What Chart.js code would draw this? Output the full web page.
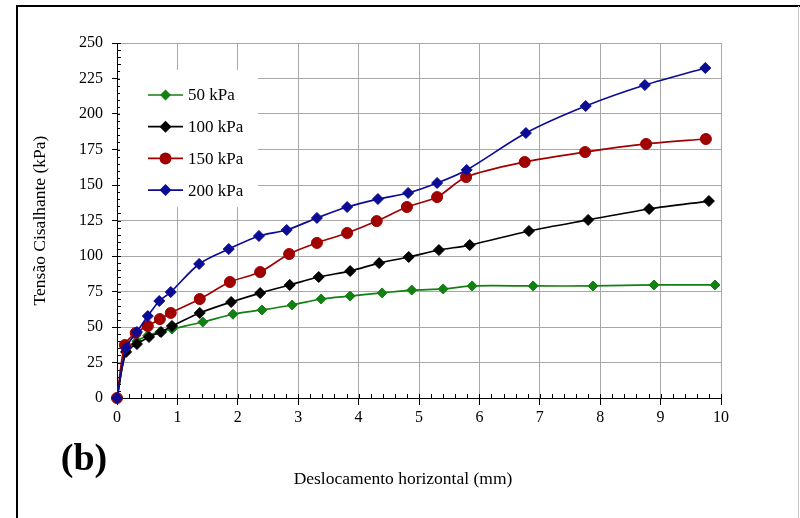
<!DOCTYPE html>
<html>
<head>
<meta charset="utf-8">
<script src="https://cdn.jsdelivr.net/npm/chart.js@4/dist/chart.umd.min.js"></script>
<style>
  html, body { margin: 0; padding: 0; background: #fff; }
  #wrap { width: 800px; height: 518px; position: relative; }
</style>
</head>
<body>
<div id="wrap"><canvas id="c" width="800" height="518"></canvas></div>
<script>
// Horizontal displacement (mm) and shear stress (kPa) for each normal stress
const seriesLabels = ['50 kPa', '100 kPa', '150 kPa', '200 kPa'];

const disp50  = [0, 0.15, 0.33, 0.51, 0.71, 0.91, 1.42, 1.92, 2.40, 2.90, 3.38, 3.86, 4.39, 4.88, 5.40, 5.88, 6.89, 7.88, 8.89, 9.90];
const shear50 = [0, 33, 40, 44, 46.5, 48.6, 53.5, 59, 62, 65.5, 69.7, 71.8, 74, 76, 76.8, 78.9, 78.9, 78.9, 79.6, 79.6];

const disp100  = [0, 0.15, 0.33, 0.53, 0.73, 0.91, 1.37, 1.89, 2.37, 2.86, 3.34, 3.86, 4.34, 4.83, 5.33, 5.84, 6.82, 7.80, 8.81, 9.80];
const shear100 = [0, 32.4, 38, 43, 46.5, 50.7, 59.9, 67.6, 73.9, 79.6, 85.2, 89.4, 95, 99.3, 104.2, 107.7, 117.6, 125.4, 133.1, 138.7];

const disp150  = [0, 0.13, 0.31, 0.51, 0.71, 0.89, 1.37, 1.87, 2.37, 2.85, 3.31, 3.81, 4.30, 4.80, 5.30, 5.78, 6.75, 7.75, 8.76, 9.75];
const shear150 = [0, 37.3, 45.8, 50.7, 55.6, 59.9, 69.7, 81.7, 88.7, 101.4, 109.2, 116.2, 124.6, 134.5, 141.5, 155.6, 166.2, 173.2, 178.9, 182.4];

const disp200  = [0, 0.15, 0.33, 0.51, 0.70, 0.89, 1.36, 1.85, 2.35, 2.81, 3.31, 3.81, 4.32, 4.82, 5.30, 5.79, 6.77, 7.76, 8.74, 9.74];
const shear200 = [0, 35.2, 46.5, 57.7, 68.3, 74.6, 94.4, 104.9, 114.1, 118.3, 126.8, 134.5, 140.1, 144.4, 151.4, 160.6, 186.6, 205.6, 220.4, 232.4];

const xTicks = [0, 1, 2, 3, 4, 5, 6, 7, 8, 9, 10];
const yTicks = [0, 25, 50, 75, 100, 125, 150, 175, 200, 225, 250];

const SERIF = "'Liberation Serif', 'Times New Roman', serif";

function pts(xs, ys) { return xs.map((x, i) => ({ x: x, y: ys[i] })); }

const colors = ['#138013', '#000000', '#a00000', '#0b0b94'];
const styles = ['rectRot', 'rectRot', 'circle', 'rectRot'];
const radii  = [5, 5.5, 5.5, 5.5];

const datasets = [
  { data: pts(disp50, shear50), order: 4 },
  { data: pts(disp100, shear100), order: 3 },
  { data: pts(disp150, shear150), order: 2 },
  { data: pts(disp200, shear200), order: 1 }
].map((d, i) => Object.assign(d, {
  label: seriesLabels[i],
  borderColor: colors[i],
  backgroundColor: colors[i],
  pointBackgroundColor: colors[i],
  pointBorderColor: colors[i],
  pointStyle: styles[i],
  pointRadius: radii[i],
  pointBorderWidth: 1,
  borderWidth: 1.7,
  tension: 0.3,
  fill: false,
  clip: 12
}));

// white page with the figure frame
const framePlugin = {
  id: 'frame',
  beforeDraw(chart) {
    const ctx = chart.ctx;
    ctx.save();
    ctx.fillStyle = '#fff';
    ctx.fillRect(0, 0, chart.width, chart.height);
    ctx.strokeStyle = '#000';
    ctx.lineWidth = 2;
    ctx.beginPath();
    ctx.moveTo(17, 518); ctx.lineTo(17, 6); ctx.lineTo(800, 6);
    ctx.stroke();
    ctx.strokeStyle = '#c8c8c8';
    ctx.lineWidth = 1;
    ctx.beginPath();
    ctx.moveTo(798.5, 6); ctx.lineTo(798.5, 518);
    ctx.stroke();
    ctx.restore();
  }
};

// inner major ticks and minor ticks on both axes
const minorTicks = {
  id: 'minorTicks',
  beforeDatasetsDraw(chart) {
    const ctx = chart.ctx;
    const xs = chart.scales.x, ys = chart.scales.y;
    const area = chart.chartArea;
    ctx.save();
    ctx.strokeStyle = '#000';
    ctx.lineWidth = 1;
    ctx.beginPath();
    for (let v = 0; v <= 250; v += 5) {
      const y = Math.round(ys.getPixelForValue(v)) + 0.5;
      ctx.moveTo(area.left, y); ctx.lineTo(area.left + 4, y);
    }
    for (let k = 0; k <= 50; k++) {
      const x = Math.round(xs.getPixelForValue(k * 0.2)) + 0.5;
      ctx.moveTo(x, area.bottom); ctx.lineTo(x, area.bottom - 4);
    }
    ctx.stroke();
    ctx.restore();
  }
};

function drawMarker(ctx, style, r, x, y, color) {
  ctx.fillStyle = color;
  ctx.beginPath();
  if (style === 'circle') {
    ctx.arc(x, y, r, 0, Math.PI * 2);
  } else {
    ctx.moveTo(x, y - r); ctx.lineTo(x + r, y); ctx.lineTo(x, y + r); ctx.lineTo(x - r, y); ctx.closePath();
  }
  ctx.fill();
}

// legend box inside the plot, plus the x-axis title and panel tag
const annotations = {
  id: 'annotations',
  afterDraw(chart) {
    const ctx = chart.ctx;
    const area = chart.chartArea;
    ctx.save();
    ctx.fillStyle = '#fff';
    ctx.fillRect(area.left + 3, 70, 138, 137);
    ctx.font = '17px ' + SERIF;
    ctx.textBaseline = 'middle';
    ctx.textAlign = 'left';
    chart.data.datasets.forEach((ds, i) => {
      const y = 95 + i * 31.7;
      ctx.strokeStyle = ds.borderColor;
      ctx.lineWidth = ds.borderWidth;
      ctx.beginPath(); ctx.moveTo(148, y); ctx.lineTo(183, y); ctx.stroke();
      drawMarker(ctx, ds.pointStyle, ds.pointRadius + 0.5, 165.5, y, ds.borderColor);
      ctx.fillStyle = '#000';
      ctx.fillText(ds.label, 188, y + 1);
    });
    ctx.textAlign = 'center';
    ctx.fillStyle = '#000';
    ctx.font = '17.5px ' + SERIF;
    ctx.fillText('Deslocamento horizontal (mm)', 403, 479);
    ctx.font = 'bold 38px ' + SERIF;
    ctx.fillText('(b)', 84, 460);
    ctx.restore();
  }
};

new Chart(document.getElementById('c'), {
  type: 'line',
  data: { datasets: datasets },
  options: {
    responsive: false,
    animation: false,
    devicePixelRatio: 1,
    layout: { padding: { left: 0, top: 43, right: 79, bottom: 0 } },
    plugins: { legend: { display: false }, tooltip: { enabled: false } },
    scales: {
      x: {
        type: 'linear',
        min: 0, max: 10,
        afterFit(scale) { scale.height = 120; },
        afterBuildTicks(scale) { scale.ticks = xTicks.map(v => ({ value: v })); },
        ticks: { color: '#000', font: { family: SERIF, size: 16 }, padding: 3, maxRotation: 0 },
        grid: { color: '#a8a8a8', lineWidth: 1, tickColor: '#000', tickLength: 7 },
        border: { color: '#000', width: 1 }
      },
      y: {
        type: 'linear',
        min: 0, max: 250,
        afterFit(scale) { scale.width = 117; },
        afterBuildTicks(scale) { scale.ticks = yTicks.map(v => ({ value: v })); },
        ticks: { color: '#000', font: { family: SERIF, size: 16 }, padding: 9 },
        grid: { color: '#a8a8a8', lineWidth: 1, tickColor: '#000', tickLength: 5 },
        border: { color: '#000', width: 1 },
        title: {
          display: true,
          text: 'Tensão Cisalhante (kPa)',
          color: '#000',
          font: { family: SERIF, size: 17.5 },
          padding: { top: 30, bottom: 0 }
        }
      }
    }
  },
  plugins: [framePlugin, minorTicks, annotations]
});
</script>
</body>
</html>
